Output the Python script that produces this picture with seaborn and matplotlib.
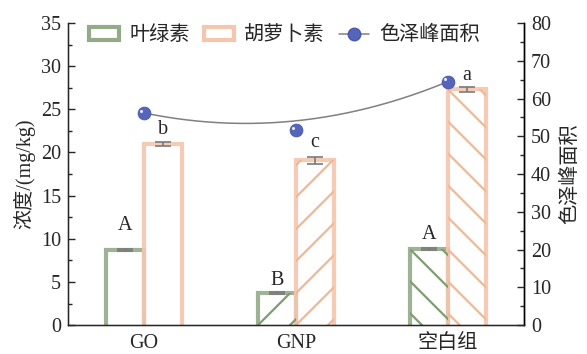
import numpy as np
import pandas as pd
import seaborn as sns
import matplotlib.pyplot as plt
import matplotlib.transforms as mtransforms
from matplotlib.lines import Line2D
from matplotlib.patches import Patch

# data
groups = ['GO', 'GNP', '空白组']
chl = [8.7, 3.7, 8.8]           # 叶绿素
chl_err = [0.08, 0.1, 0.08]
car = [21.0, 19.1, 27.3]        # 胡萝卜素
car_err = [0.25, 0.4, 0.25]
area = [56.2, 51.7, 64.5]       # 色泽峰面积 (points)
area_smooth = [56.2, 54.1, 64.5]  # smoothed curve passing level
chl_letters = ['A', 'B', 'A']
car_letters = ['b', 'c', 'a']
chl_letter_y = [11.0, 4.6, 10.0]
car_letter_y = [22.2, 20.6, 28.4]
chl_hatch = ['', '/', '\\']
car_hatch = ['', '/', '\\']

GREEN = '#93ab88'
ORANGE = '#f5c6ae'
BLUE = '#5565bb'

sns.set_style('ticks')
plt.rcParams['font.family'] = ['Liberation Serif', 'Noto Sans CJK SC']
plt.rcParams['axes.unicode_minus'] = False
FS = 14.5

df = pd.DataFrame({
    'group': groups * 2,
    'kind': ['叶绿素'] * 3 + ['胡萝卜素'] * 3,
    'value': chl + car,
})

fig = plt.figure(figsize=(5.87, 3.54), dpi=100)
ax = fig.add_axes([0.1158, 0.0815, 0.7769, 0.8535])
sns.barplot(data=df, x='group', y='value', hue='kind', palette=[GREEN, ORANGE],
            fill=False, linewidth=3, width=0.5, gap=0, errorbar=None,
            legend=False, ax=ax)
ax.set_xlim(-0.5, 2.5)
ax.set_ylim(0, 35)
ax.set_yticks(np.arange(0, 36, 5))
ax.set_yticks(np.arange(0, 35, 2.5), minor=True)
ax.tick_params(axis='y', which='major', direction='in', length=5, width=1,
               labelsize=FS, pad=5)
ax.tick_params(axis='y', which='minor', direction='in', length=3, width=1)
ax.tick_params(axis='x', direction='in', length=4, width=1, labelsize=FS, pad=6.5)
ax.set_xlabel('')
ax.set_ylabel('浓度/(mg/kg)', fontsize=FS, labelpad=4)
ax.spines['top'].set_visible(False)
for s in ['left', 'right', 'bottom']:
    ax.spines[s].set_linewidth(1.0)
    ax.spines[s].set_color('black')


def hatch_bar(patch, kind, color, step=32, lw=1.6):
    if not kind:
        return
    bb = patch.get_bbox()
    (x0, y0), (x1, y1) = ax.transData.transform([[bb.x0, bb.y0], [bb.x1, bb.y1]])
    w, h = x1 - x0, y1 - y0
    offs = np.concatenate([np.arange(0, h, step), -np.arange(step, w, step)])
    xs = np.array([x0, x1])
    inv = ax.transData.inverted()
    for c in offs:
        if kind == '/':
            ys = y0 + (xs - x0) + c
        else:
            ys = y1 - (xs - x0) - c
        pts = inv.transform(np.column_stack([xs, ys]))
        ln, = ax.plot(pts[:, 0], pts[:, 1], color=color, lw=lw, zorder=1.5)
        ln.set_clip_path(patch)


chl_bars, car_bars = ax.containers[0], ax.containers[1]
for bars, vals, errs, hatches, letters, ly, hcol in [
        (chl_bars, chl, chl_err, chl_hatch, chl_letters, chl_letter_y, '#7f9c72'),
        (car_bars, car, car_err, car_hatch, car_letters, car_letter_y, '#f2b795')]:
    xs = [p.get_x() + p.get_width() / 2 for p in bars]
    for p, hk in zip(bars, hatches):
        p.set_alpha(0.9)
        hatch_bar(p, hk, hcol)
        # push the bottom edge below the axis so the bar looks open at the base
        p.set_y(-0.4)
        p.set_height(p.get_height() + 0.4)
    ax.errorbar(xs, vals, yerr=errs, fmt='none', ecolor='#7a7a7a',
                elinewidth=1.2, capsize=6, capthick=1.2, zorder=4)
    for x, y, t in zip(xs, ly, letters):
        ax.text(x, y, t, ha='center', va='baseline', fontsize=FS)

# right axis: colour peak area
ax2 = ax.twinx()
ax2.set_ylim(0, 80)
ax2.set_yticks(np.arange(0, 81, 10))
ax2.set_yticks(np.arange(0, 80, 5), minor=True)
ax2.tick_params(axis='y', which='major', direction='in', length=5, width=1,
                labelsize=FS, pad=5)
ax2.tick_params(axis='y', which='minor', direction='in', length=3, width=1)
ax2.set_ylabel('色泽峰面积', fontsize=FS, rotation=90, labelpad=7)
ax2.spines['top'].set_visible(False)
ax2.spines['right'].set_linewidth(1.0)
ax2.spines['right'].set_color('black')

xpos = np.arange(len(groups))
coef = np.polyfit(xpos, area_smooth, 2)
xx = np.linspace(0, 2, 200)
ax2.plot(xx, np.polyval(coef, xx), color='#808080', lw=1.1, zorder=3)
ax2.scatter(xpos, area, s=85, color=BLUE, edgecolor='#4a58a8', linewidth=0.6,
            zorder=5)
hl = ax2.transData + mtransforms.ScaledTranslation(-2.2 / 72, 1.6 / 72,
                                                   fig.dpi_scale_trans)
ax2.scatter(xpos, area, s=5, color='#e4e8fa', linewidth=0, zorder=6,
            transform=hl)

handles = [
    Patch(facecolor='none', edgecolor=GREEN, linewidth=3),
    Patch(facecolor='none', edgecolor=ORANGE, linewidth=3),
    Line2D([], [], color='#808080', lw=1.1, marker='o', markersize=9,
           markerfacecolor=BLUE, markeredgecolor='#4a58a8'),
]
ax2.legend(handles, ['叶绿素', '胡萝卜素', '色泽峰面积'], loc='upper left',
           ncol=3, frameon=False, fontsize=FS, handlelength=1.5,
           handleheight=0.6, handletextpad=0.5, columnspacing=0.7,
           borderaxespad=0.2, bbox_to_anchor=(0.02, 1.03))

fig.savefig('out.png', dpi=100)
